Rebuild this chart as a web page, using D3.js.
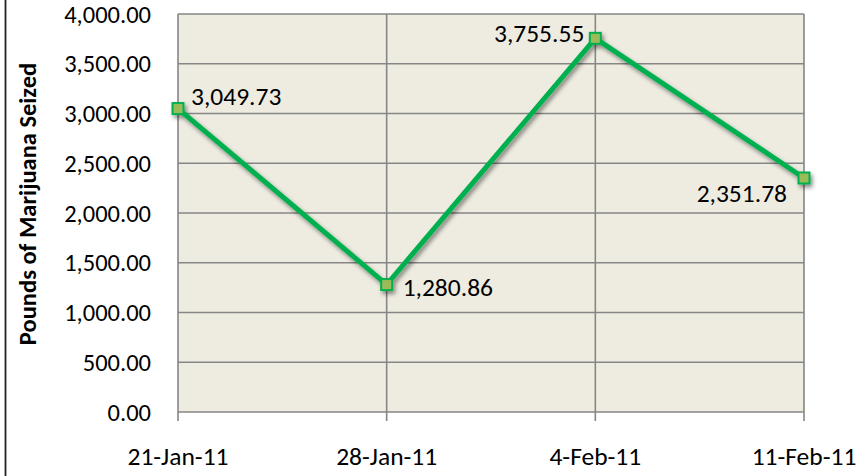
<!DOCTYPE html>
<html>
<head>
<meta charset="utf-8">
<script src="https://cdn.jsdelivr.net/npm/d3@7"></script>
<style>
  body { margin: 0; background: #fff; }
  text { font-family: Carlito, Lato, "Open Sans", sans-serif; fill: #000; }
</style>
</head>
<body>
<div id="chart"></div>
<script>
// data
const dates = ["21-Jan-11", "28-Jan-11", "4-Feb-11", "11-Feb-11"];
const pounds = [3049.73, 1280.86, 3755.55, 2351.78];
const yTicks = [0, 500, 1000, 1500, 2000, 2500, 3000, 3500, 4000];

const width = 866, height = 476;
const margin = {top: 14, right: 62, bottom: 64, left: 178};

const svg = d3.select("#chart")
  .append("svg")
  .attr("width", width)
  .attr("height", height);

// drop shadow for the line + markers
const defs = svg.append("defs");
defs.append("filter")
  .attr("id", "shadow")
  .attr("x", "-20%").attr("y", "-20%")
  .attr("width", "140%").attr("height", "140%")
  .append("feDropShadow")
  .attr("dx", 2).attr("dy", 3)
  .attr("stdDeviation", 2)
  .attr("flood-color", "#000")
  .attr("flood-opacity", 0.45);

// left edge of the outer chart border
svg.append("line")
  .attr("x1", 5.5).attr("x2", 5.5)
  .attr("y1", 0).attr("y2", height)
  .attr("stroke", "#222")
  .attr("stroke-width", 1.8);

const x = d3.scalePoint()
  .domain(dates)
  .range([margin.left, width - margin.right]);

const y = d3.scaleLinear()
  .domain([0, 4000])
  .range([height - margin.bottom, margin.top]);

const fmt = d3.format(",.2f");

// plot area
svg.append("rect")
  .attr("x", margin.left)
  .attr("y", margin.top)
  .attr("width", width - margin.left - margin.right)
  .attr("height", height - margin.top - margin.bottom)
  .attr("fill", "#eeece1");

// horizontal gridlines
svg.append("g")
  .selectAll("line")
  .data(yTicks)
  .enter()
  .append("line")
  .attr("x1", margin.left)
  .attr("x2", width - margin.right)
  .attr("y1", d => y(d))
  .attr("y2", d => y(d))
  .attr("stroke", "#868686")
  .attr("stroke-width", 1.6);

// vertical gridlines + tick marks below the axis
svg.append("g")
  .selectAll("line")
  .data(dates)
  .enter()
  .append("line")
  .attr("x1", d => x(d))
  .attr("x2", d => x(d))
  .attr("y1", margin.top)
  .attr("y2", height - margin.bottom + 9)
  .attr("stroke", "#868686")
  .attr("stroke-width", 1.6);

// y tick labels
svg.append("g")
  .selectAll("text")
  .data(yTicks)
  .enter()
  .append("text")
  .attr("x", 151)
  .attr("y", d => y(d))
  .attr("dy", "0.35em")
  .attr("text-anchor", "end")
  .style("font-size", "24.5px")
  .text(d => fmt(d));

// x tick labels
svg.append("g")
  .selectAll("text")
  .data(dates)
  .enter()
  .append("text")
  .attr("x", d => x(d))
  .attr("y", 456)
  .attr("dy", "0.35em")
  .attr("text-anchor", "middle")
  .style("font-size", "25.5px")
  .text(d => d);

// y axis title
svg.append("text")
  .attr("transform", "translate(27," + 204 + ") rotate(-90)")
  .attr("dy", "0.35em")
  .attr("text-anchor", "middle")
  .style("font-size", "24.5px")
  .style("font-weight", "bold")
  .text("Pounds of Marijuana Seized");

const series = dates.map((d, i) => ({date: d, value: pounds[i]}));

const line = d3.line()
  .x(d => x(d.date))
  .y(d => y(d.value));

const g = svg.append("g").attr("filter", "url(#shadow)");

g.append("path")
  .datum(series)
  .attr("d", line)
  .attr("fill", "none")
  .attr("stroke", "#00b050")
  .attr("stroke-width", 5)
  .attr("stroke-linejoin", "miter");

g.selectAll("rect")
  .data(series)
  .enter()
  .append("rect")
  .attr("x", d => x(d.date) - 5.5)
  .attr("y", d => y(d.value) - 5.5)
  .attr("width", 11)
  .attr("height", 11)
  .attr("fill", "#9bbb59")
  .attr("stroke", "#00b050")
  .attr("stroke-width", 2);

// data labels: offset per point as in the picture
const labelPos = [
  {dx: 13, dy: -12, anchor: "start"},
  {dx: 16, dy: 3, anchor: "start"},
  {dx: -11, dy: -5, anchor: "end"},
  {dx: -17, dy: 15, anchor: "end"}
];

svg.append("g")
  .selectAll("text")
  .data(series)
  .enter()
  .append("text")
  .attr("x", (d, i) => x(d.date) + labelPos[i].dx)
  .attr("y", (d, i) => y(d.value) + labelPos[i].dy)
  .attr("dy", "0.35em")
  .attr("text-anchor", (d, i) => labelPos[i].anchor)
  .style("font-size", "25.5px")
  .text(d => fmt(d.value));
</script>
</body>
</html>
